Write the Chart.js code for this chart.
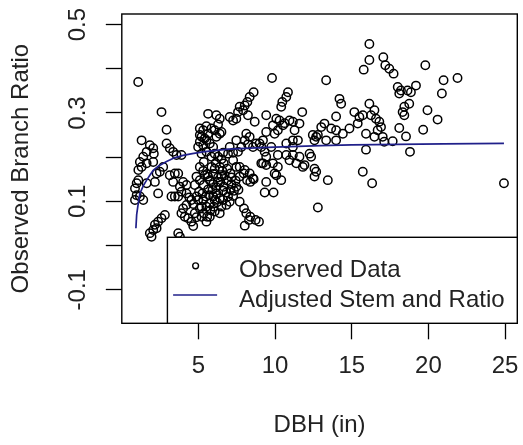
<!DOCTYPE html>
<html><head><meta charset="utf-8">
<script src="https://cdn.jsdelivr.net/npm/chart.js@4.4.1/dist/chart.umd.min.js"></script>
<style>html,body{margin:0;padding:0;background:#fff;}</style>
</head><body>
<canvas id="c" width="523" height="445"></canvas>
<script>
// ---- data ----
const dbh = [
  // x < 3.8
  1.07,2.59,2.92,1.29,1.83,2.05,2.09,1.62,1.40,1.18,
  2.92,3.13,3.35,3.57,1.08,1.29,1.62,2.05,0.86,0.97,
  1.08,1.18,1.40,0.86,0.97,2.27,2.48,2.70,3.13,3.46,
  3.35,2.37,2.16,1.62,3.24,3.46,3.68,1.94,1.83,2.05,
  2.16,2.37,2.59,2.81,2.27,3.68,3.79,
  // 3.7 - 4.9
  3.89,4.00,4.11,4.22,4.33,4.54,4.66,4.76,4.87,4.54,
  4.66,4.87,3.79,3.89,4.22,4.22,4.40,4.00,3.68,3.89,
  // dense cluster 5 - 8
  5.63,6.17,6.39,5.09,5.31,5.20,5.52,5.85,6.06,6.17,
  5.74,5.31,5.09,5.41,5.63,4.98,5.96,6.39,6.50,5.09,
  5.52,6.28,6.06,6.28,6.61,6.93,7.26,7.58,5.85,5.52,
  5.20,5.09,5.31,5.57,5.85,6.13,6.39,6.56,6.65,6.87,
  7.09,5.96,6.28,5.74,6.06,6.50,5.35,5.09,5.35,5.63,
  5.96,6.17,6.43,6.65,6.87,7.15,7.43,7.69,7.95,8.17,
  8.38,8.60,5.31,5.52,5.74,5.96,6.17,6.39,6.61,6.82,
  7.09,7.32,7.61,5.35,5.57,5.78,6.00,6.21,6.50,6.82,
  5.20,5.04,5.26,5.48,5.70,5.92,6.06,6.28,6.50,6.71,
  5.63,5.41,4.87,5.20,7.04,6.39,7.15,7.47,6.93,5.52,
  4.76,4.98,5.09,5.74,6.06,6.61,7.26,
  // descending streak near 8
  7.69,7.97,8.12,8.38,8.73,8.95,8.02,8.30,
  // 7 - 9 upper
  7.26,7.47,7.58,7.69,8.02,8.19,8.34,8.60,7.91,8.23,
  7.04,7.47,8.02,8.12,8.34,8.67,8.77,8.99,8.56,8.23,
  7.80,7.04,7.69,8.02,8.34,8.56,7.47,7.26,
  // 9 - 13.5
  9.80,9.42,10.08,10.29,10.51,10.62,9.86,10.18,9.42,10.84,
  10.73,10.47,10.40,11.77,11.59,11.27,11.16,10.94,11.16,9.21,
  10.18,10.73,11.16,11.59,9.10,9.32,9.21,9.75,9.42,9.32,
  9.90,9.42,9.86,10.18,10.40,9.97,10.08,9.10,10.73,11.16,
  11.49,10.94,11.38,11.81,12.25,12.35,11.92,12.57,12.68,12.57,
  13.44,12.79,12.46,12.57,9.42,9.97,
  // 12.5 - 18
  13.33,14.20,14.31,13.98,15.17,15.50,15.39,14.85,14.42,13.98,
  13.66,13.22,13.01,12.79,12.68,13.33,13.98,16.15,16.48,16.26,
  16.58,16.80,16.91,16.69,16.48,17.02,17.67,17.12,15.93,15.72,
  16.33,16.15,16.15,15.78,17.06,17.19,17.45,17.73,15.72,15.93,
  // > 18
  18.00,18.21,18.10,18.64,18.86,19.19,18.75,18.43,18.32,18.43,
  19.80,20.99,21.90,20.88,19.94,20.60,19.66,18.10,18.54,18.80,
  24.93
];
const ratio = [
  0.370,0.302,0.262,0.238,0.227,0.220,0.208,0.212,0.201,0.189,
  0.231,0.220,0.212,0.205,0.171,0.178,0.186,0.189,0.129,0.141,
  0.148,0.111,0.103,0.103,0.114,0.163,0.167,0.178,0.159,0.163,
  0.144,0.118,0.144,0.141,0.111,0.111,0.111,0.020,0.028,0.035,
  0.047,0.054,0.062,0.069,0.039,0.028,0.020,

  0.073,0.084,0.065,0.092,0.062,0.054,0.044,0.073,0.064,0.103,
  0.094,0.111,0.133,0.122,0.137,0.118,0.109,0.144,0.163,0.205,

  0.298,0.295,0.287,0.265,0.261,0.246,0.238,0.265,0.261,0.246,
  0.231,0.227,0.235,0.242,0.253,0.223,0.223,0.253,0.257,0.250,
  0.270,0.274,0.208,0.201,0.210,0.208,0.210,0.212,0.201,0.212,
  0.208,0.178,0.169,0.162,0.178,0.187,0.178,0.169,0.186,0.174,
  0.163,0.162,0.154,0.148,0.174,0.195,0.189,0.148,0.137,0.127,
  0.139,0.132,0.144,0.133,0.147,0.154,0.147,0.156,0.163,0.148,
  0.144,0.150,0.103,0.088,0.095,0.111,0.118,0.107,0.124,0.120,
  0.126,0.124,0.126,0.073,0.065,0.080,0.088,0.098,0.088,0.092,
  0.088,0.122,0.118,0.111,0.114,0.126,0.103,0.144,0.156,0.159,
  0.156,0.159,0.156,0.065,0.099,0.073,0.139,0.133,0.111,0.054,
  0.137,0.103,0.084,0.065,0.077,0.103,0.112,

  0.099,0.084,0.073,0.065,0.058,0.054,0.045,0.058,

  0.283,0.287,0.302,0.314,0.317,0.325,0.336,0.347,0.306,0.295,
  0.291,0.238,0.238,0.253,0.246,0.280,0.231,0.231,0.223,0.229,
  0.223,0.223,0.178,0.171,0.163,0.152,0.178,0.193,

  0.379,0.295,0.287,0.283,0.272,0.277,0.272,0.261,0.257,0.347,
  0.336,0.325,0.314,0.302,0.276,0.261,0.238,0.283,0.280,0.186,
  0.205,0.205,0.205,0.201,0.223,0.212,0.238,0.223,0.144,0.120,
  0.120,0.182,0.186,0.178,0.148,0.163,0.159,0.186,0.231,0.223,
  0.238,0.193,0.186,0.178,0.208,0.201,0.182,0.174,0.167,0.156,
  0.148,0.086,0.250,0.238,0.201,0.253,

  0.374,0.332,0.321,0.292,0.302,0.291,0.276,0.265,0.253,0.261,
  0.265,0.276,0.268,0.250,0.246,0.238,0.238,0.321,0.306,0.295,
  0.287,0.280,0.268,0.261,0.246,0.246,0.236,0.235,0.217,0.167,
  0.141,0.456,0.420,0.398,0.426,0.408,0.400,0.389,0.295,0.253,

  0.359,0.351,0.344,0.351,0.347,0.362,0.321,0.314,0.302,0.295,
  0.408,0.374,0.379,0.344,0.306,0.285,0.262,0.266,0.247,0.212,
  0.141
];
// fitted curve (Adjusted Stem and Ratio)
const fitX = [0.92,0.97,1.05,1.18,1.40,1.62,1.85,2.05,2.40,2.92,3.40,4.00,4.60,5.30,6.00,7.00,8.00,9.50,11.0,13.0,15.0,18.0,21.0,24.93];
const fitY = [0.039,0.070,0.090,0.118,0.135,0.148,0.160,0.170,0.180,0.190,0.198,0.204,0.208,0.212,0.215,0.218,0.220,0.222,0.224,0.226,0.228,0.229,0.230,0.231];

const xTickValues = [5, 10, 15, 20, 25];
const xTickLabels = ['5', '10', '15', '20', '25'];
const yTickValues = [-0.1, 0, 0.1, 0.2, 0.3, 0.4, 0.5];
const yTickLabels = ['-0.1', '', '0.1', '', '0.3', '', '0.5'];

const seriesNames = ['Observed Data', 'Adjusted Stem and Ratio'];
const xTitle = 'DBH (in)';
const yTitle = 'Observed Branch Ratio';

// ---- styles ----
const FONT = "'Liberation Sans', Arial, sans-serif";
const TXT = '#222222';
const LINE_COLOR = '#20208a';
Chart.defaults.font.family = FONT;

const n = Math.min(dbh.length, ratio.length);
const obsPts = [];
for (let i = 0; i < n; i++) obsPts.push({x: dbh[i], y: ratio[i]});
const fitPts = fitX.map((x, i) => ({x: x, y: fitY[i]}));

const boxPlugin = {
  id: 'rbox',
  afterDatasetsDraw(chart) {
    const {ctx, chartArea: a} = chart;
    ctx.save();
    ctx.strokeStyle = '#000';
    ctx.lineWidth = 1.4;
    ctx.strokeRect(a.left, a.top, a.right - a.left, a.bottom - a.top);
    ctx.restore();
  }
};

const legendPlugin = {
  id: 'rlegend',
  afterDraw(chart) {
    const {ctx, chartArea: a} = chart;
    ctx.save();
    ctx.font = '24px ' + FONT;
    const tw = Math.max(...seriesNames.map(s => ctx.measureText(s).width));
    const right = a.right, bottom = a.bottom;
    const textX = right - 12.7 - tw;
    const left = textX - 71.7;
    const top = bottom - 86;
    ctx.fillStyle = '#fff';
    ctx.fillRect(left, top, right - left, bottom - top);
    ctx.strokeStyle = '#000';
    ctx.lineWidth = 1.4;
    ctx.strokeRect(left, top, right - left, bottom - top);
    // symbol: circle
    ctx.beginPath();
    ctx.arc(textX - 43.5, bottom - 57.5, 2.9, 0, Math.PI * 2);
    ctx.lineWidth = 1.4;
    ctx.stroke();
    // symbol: line
    ctx.beginPath();
    ctx.moveTo(textX - 66, bottom - 28.3);
    ctx.lineTo(textX - 22, bottom - 28.3);
    ctx.strokeStyle = LINE_COLOR;
    ctx.lineWidth = 1.7;
    ctx.stroke();
    ctx.fillStyle = TXT;
    ctx.textBaseline = 'alphabetic';
    ctx.textAlign = 'left';
    ctx.fillText(seriesNames[0], textX, bottom - 46.5);
    ctx.fillText(seriesNames[1], textX, bottom - 16.8);
    ctx.restore();
  }
};

function zeroPad(s) { s.paddingLeft = 0; s.paddingRight = 0; s.paddingTop = 0; s.paddingBottom = 0; }

new Chart(document.getElementById('c'), {
  type: 'scatter',
  data: {
    datasets: [
      { type: 'line', label: seriesNames[1], data: fitPts, borderColor: LINE_COLOR, borderWidth: 1.7,
        pointRadius: 0, fill: false, tension: 0 },
      { label: seriesNames[0], data: obsPts, pointStyle: 'circle', pointRadius: 4.2,
        borderColor: '#000', borderWidth: 1.5, backgroundColor: 'rgba(0,0,0,0)' }
    ]
  },
  options: {
    responsive: false, animation: false, devicePixelRatio: 1,
    layout: { padding: { top: 14, right: 5.3, left: 0, bottom: 0 } },
    plugins: { legend: { display: false }, tooltip: { enabled: false } },
    scales: {
      x: {
        type: 'linear', min: 0, max: 25.8,
        afterBuildTicks: s => { s.ticks = xTickValues.map(v => ({value: v})); },
        afterFit: s => { s.height = 121.7; zeroPad(s); },
        ticks: { font: { size: 24 }, color: TXT, padding: 13, maxRotation: 0, autoSkip: false,
                 callback: (v, i) => xTickLabels[i] },
        grid: { drawOnChartArea: false, drawTicks: true, tickLength: 16, tickColor: '#000', tickWidth: 1.3 },
        border: { display: false },
        title: { display: true, text: xTitle, font: { size: 24 }, color: TXT, padding: { top: 0, bottom: 5.6 } }
      },
      y: {
        type: 'linear', min: -0.176, max: 0.524,
        afterBuildTicks: s => { s.ticks = yTickValues.map(v => ({value: v})); },
        afterFit: s => { s.width = 121.8; zeroPad(s); },
        ticks: { font: { size: 24 }, color: TXT, padding: 7, minRotation: 90, maxRotation: 90,
                 crossAlign: 'center', autoSkip: false, callback: (v, i) => yTickLabels[i] },
        grid: { drawOnChartArea: false, drawTicks: true, tickLength: 16, tickColor: '#000', tickWidth: 1.3 },
        border: { display: false },
        title: { display: true, text: yTitle, font: { size: 24 }, color: TXT, padding: { top: 6.6, bottom: 0 } }
      }
    }
  },
  plugins: [boxPlugin, legendPlugin]
});
</script>
</body></html>
